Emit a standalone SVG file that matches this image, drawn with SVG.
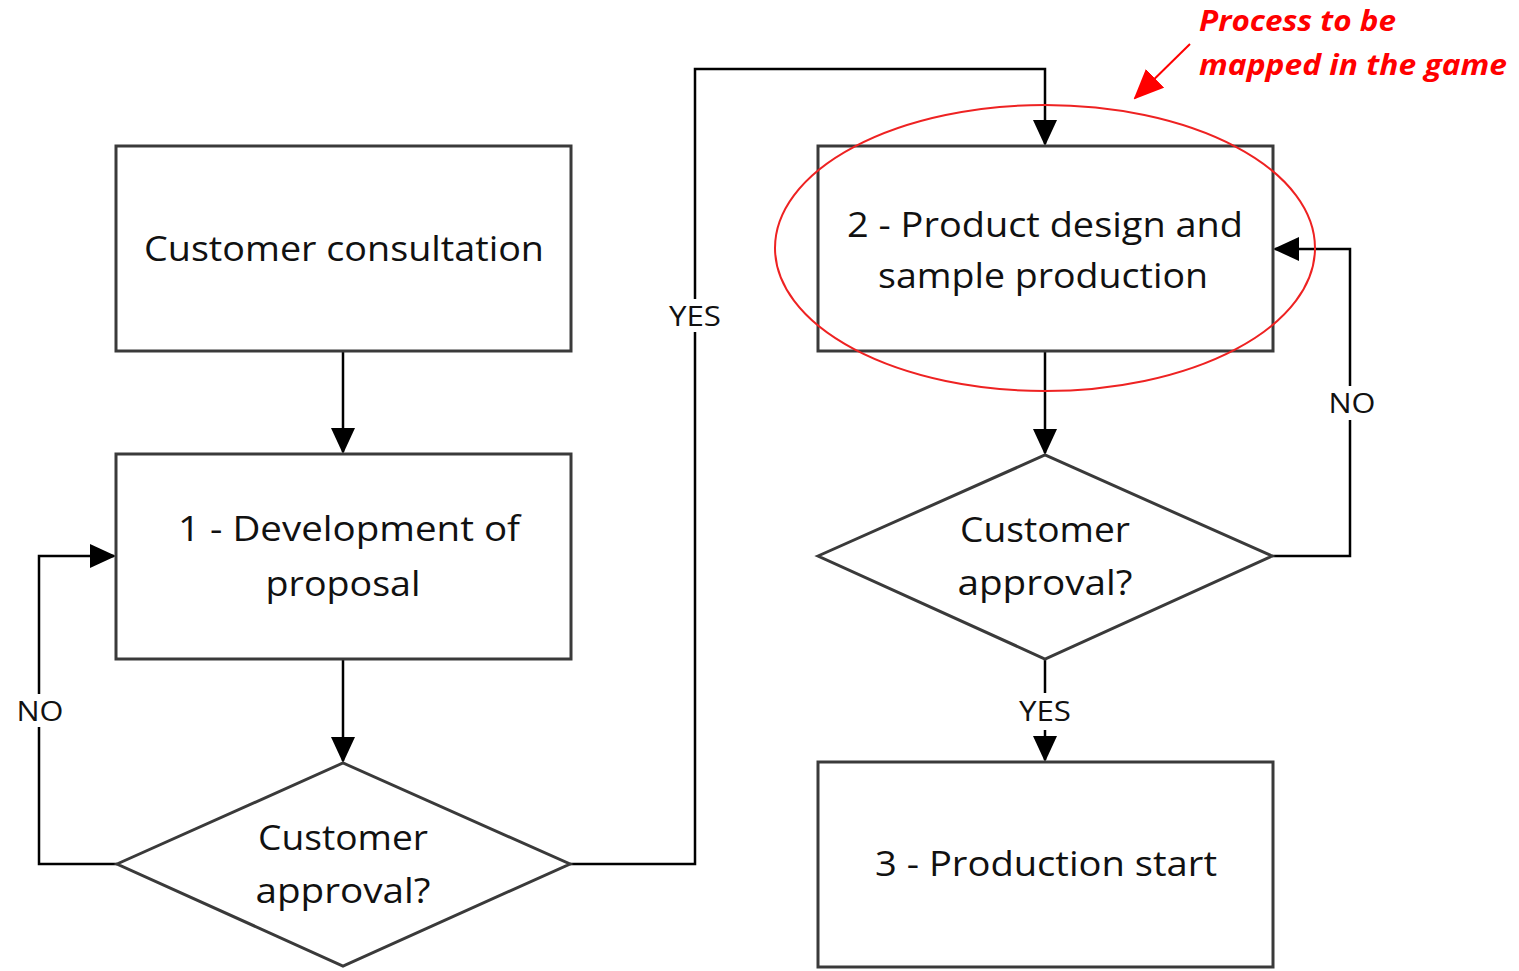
<svg xmlns="http://www.w3.org/2000/svg" width="1519" height="971" viewBox="0 0 1519 971">
<defs>
<marker id="ah" markerWidth="26" markerHeight="24" refX="24" refY="12" orient="auto" markerUnits="userSpaceOnUse" viewBox="0 0 26 24">
<path d="M0,0 L26,12 L0,24 Z" fill="#000"/>
</marker>
<marker id="red" markerWidth="30" markerHeight="26" refX="28" refY="13" orient="auto" markerUnits="userSpaceOnUse" viewBox="0 0 30 26">
<path d="M0,0 L30,13 L0,26 Z" fill="#ff0000"/>
</marker>
</defs>
<style>
.box{fill:#fff;stroke:#3a3a3a;stroke-width:3}
.t{font-family:"Open Sans","Liberation Sans",sans-serif;font-size:34px;fill:#111;text-anchor:middle}
.lbl{font-family:"Open Sans","Liberation Sans",sans-serif;font-size:27px;fill:#111;text-anchor:middle}
.c{fill:none;stroke:#000;stroke-width:2.5}
.red{font-family:"Open Sans","Liberation Sans",sans-serif;font-size:29px;font-weight:bold;font-style:italic;fill:#ff0000}
</style>
<rect width="1519" height="971" fill="#fff"/>
<g id="connectors">
<path class="c" d="M343,351 V452" marker-end="url(#ah)"/>
<path class="c" d="M343,659 V761" marker-end="url(#ah)"/>
<path class="c" d="M117,864 H39 V727"/>
<path class="c" d="M39,694 V556 H114" marker-end="url(#ah)"/>
<path class="c" d="M570,864 H695 V332"/>
<path class="c" d="M695,299 V69 H1045 V144" marker-end="url(#ah)"/>
<path class="c" d="M1045,351 V453" marker-end="url(#ah)"/>
<path class="c" d="M1272,556 H1350 V420"/>
<path class="c" d="M1350,386 V249 H1275" marker-end="url(#ah)"/>
<path class="c" d="M1045,659 V693"/>
<path class="c" d="M1045,730 V760" marker-end="url(#ah)"/>
<text class="lbl" x="40" y="721" textLength="47" lengthAdjust="spacingAndGlyphs">NO</text>
<text class="lbl" x="695" y="326" textLength="52" lengthAdjust="spacingAndGlyphs">YES</text>
<text class="lbl" x="1352" y="413" textLength="47" lengthAdjust="spacingAndGlyphs">NO</text>
<text class="lbl" x="1045" y="721" textLength="52" lengthAdjust="spacingAndGlyphs">YES</text>
</g>
<g id="n-consultation">
<rect class="box" x="116" y="146" width="455" height="205"/>
<text class="t" x="344" y="261" textLength="400" lengthAdjust="spacingAndGlyphs">Customer consultation</text>
</g>
<g id="n-proposal">
<rect class="box" x="116" y="454" width="455" height="205"/>
<text class="t" x="349" y="541" textLength="342" lengthAdjust="spacingAndGlyphs">1 - Development of</text>
<text class="t" x="343" y="596" textLength="155" lengthAdjust="spacingAndGlyphs">proposal</text>
</g>
<g id="n-approval1">
<polygon class="box" points="117,864 343,763 570,864 343,966"/>
<text class="t" x="343" y="850" textLength="170" lengthAdjust="spacingAndGlyphs">Customer</text>
<text class="t" x="343" y="903" textLength="175" lengthAdjust="spacingAndGlyphs">approval?</text>
</g>
<g id="n-design">
<rect class="box" x="818" y="146" width="455" height="205"/>
<text class="t" x="1045" y="237" textLength="396" lengthAdjust="spacingAndGlyphs">2 - Product design and</text>
<text class="t" x="1043" y="288" textLength="330" lengthAdjust="spacingAndGlyphs">sample production</text>
</g>
<g id="n-approval2">
<polygon class="box" points="818,556 1045,455 1272,556 1045,659"/>
<text class="t" x="1045" y="542" textLength="170" lengthAdjust="spacingAndGlyphs">Customer</text>
<text class="t" x="1045" y="595" textLength="175" lengthAdjust="spacingAndGlyphs">approval?</text>
</g>
<g id="n-production">
<rect class="box" x="818" y="762" width="455" height="205"/>
<text class="t" x="1046" y="876" textLength="342" lengthAdjust="spacingAndGlyphs">3 - Production start</text>
</g>
<g id="annotation">
<ellipse cx="1045" cy="248" rx="270" ry="143" fill="none" stroke="#ee2222" stroke-width="2"/>
<line x1="1190" y1="44" x2="1135" y2="98" stroke="#ff0000" stroke-width="2" marker-end="url(#red)"/>
<text class="red" x="1199" y="31" textLength="197" lengthAdjust="spacingAndGlyphs">Process to be</text>
<text class="red" x="1199" y="75" textLength="308" lengthAdjust="spacingAndGlyphs">mapped in the game</text>
</g>
</svg>
